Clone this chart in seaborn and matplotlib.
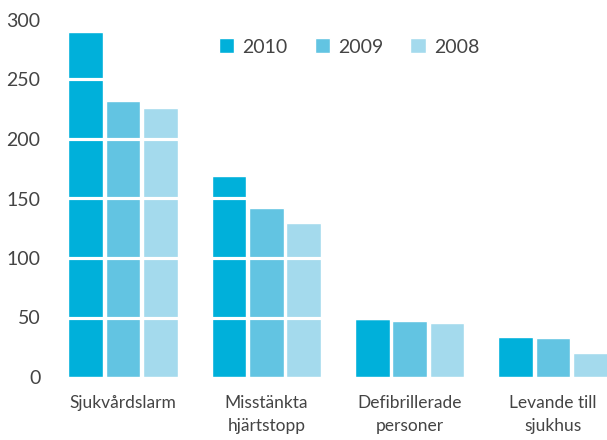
import matplotlib
matplotlib.use("Agg")
import matplotlib.pyplot as plt
import seaborn as sns
import pandas as pd

categories = ["Sjukvårdslarm", "Misstänkta\nhjärtstopp", "Defibrillerade\npersoner", "Levande till\nsjukhus"]
years = ["2010", "2009", "2008"]
values_2010 = [290, 169, 49, 34]
values_2009 = [232, 142, 47, 33]
values_2008 = [226, 129, 45, 20]
yticks = [0, 50, 100, 150, 200, 250, 300]
colors = ["#00B0DA", "#62C4E2", "#A4DAED"]

rows = []
for yr, vals in zip(years, [values_2010, values_2009, values_2008]):
    for c, v in zip(categories, vals):
        rows.append({"cat": c, "year": yr, "val": v})
df = pd.DataFrame(rows)

sns.set_style("white")
plt.rcParams['font.family'] = ['Lato', 'DejaVu Sans']
txt = "#444444"

fig = plt.figure(figsize=(6.07, 4.40), dpi=100)
ax = fig.add_axes([50/607, 63/440, 557/607, 357/440])
sns.barplot(data=df, x="cat", y="val", hue="year", hue_order=years, palette=colors,
            width=0.78, gap=0.07, saturation=1, ax=ax, legend=True)

ax.set_xlim(-0.509, 3.377)
ax.set_ylim(0, 300)
ax.set_yticks(yticks)
ax.set_yticklabels([str(t) for t in yticks])
for y in yticks[1:]:
    ax.axhline(y, color="white", lw=2.3, zorder=5)
for s in ax.spines.values():
    s.set_visible(False)
ax.tick_params(axis="both", length=0, colors=txt)
ax.tick_params(axis="y", pad=7, labelsize=14)
ax.tick_params(axis="x", pad=13, labelsize=12.5)
for lab in ax.get_xticklabels():
    lab.set_linespacing(1.55)
    lab.set_va("top")
ax.set_xlabel("")
ax.set_ylabel("")

handles, labels = ax.get_legend_handles_labels()
ax.legend_.remove()
leg = fig.legend(handles, labels, loc="center", bbox_to_anchor=(0.575, 0.893),
                 bbox_transform=fig.transFigure, ncol=3, frameon=False,
                 fontsize=14, handlelength=0.8, handleheight=0.8,
                 handletextpad=0.4, columnspacing=1.4, borderpad=0)
for t in leg.get_texts():
    t.set_color(txt)

fig.savefig("out.png", dpi=100)
